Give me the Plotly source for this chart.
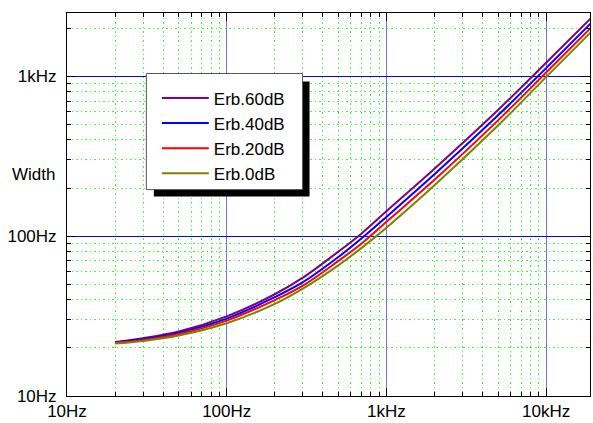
import plotly.graph_objects as go

# ---- data ----
freq = [20, 30, 50, 100, 200, 300, 500, 700, 1000, 2000, 5000, 10000, 20000]
erb60 = [21.8, 23.0, 25.3, 31.5, 43.3, 55.0, 80.0, 104.0, 143.0, 264, 615, 1215, 2420]
erb40 = [21.65, 22.7, 24.9, 30.5, 41.5, 51.5, 74.0, 97.0, 132.0, 244, 570, 1125, 2250]
erb20 = [21.5, 22.4, 24.4, 29.6, 39.8, 49.0, 70.0, 90.0, 123.0, 225, 530, 1055, 2110]
erb0 = [21.3, 22.1, 23.9, 28.5, 37.7, 47.0, 65.7, 84.5, 113.0, 208, 492, 988, 1977]
series_names = ["Erb.60dB", "Erb.40dB", "Erb.20dB", "Erb.0dB"]
series_vals = [erb60, erb40, erb20, erb0]
series_colors = ["#800080", "#0000ff", "#ff0000", "#808000"]

x_tickvals = [10, 100, 1000, 10000]
x_ticktext = ["10Hz", "100Hz", "1kHz", "10kHz"]
y_tickvals = [10, 100, 1000]
y_ticktext = ["10Hz", "100Hz", "1kHz"]
minor_vals = [m * 10 ** k for k in range(1, 5) for m in range(2, 10)]
y_title = "Width"

# ---- geometry ----
W, H = 593, 423
L, R, T, B = 67, 2, 13, 24
pw, ph = W - L - R, H - T - B


def px(xp):
    return (xp - L) / pw


def py(yp):
    return (H - B - yp) / ph


fig = go.Figure()
for i, (name, vals, col) in enumerate(zip(series_names, series_vals, series_colors)):
    fig.add_trace(go.Scatter(x=freq, y=vals, mode="lines", name=name,
                             legendgroup=f"g{i}",
                             line=dict(color=col, width=2, shape="spline")))

axis_common = dict(
    type="log", ticks="inside", ticklen=8, tickwidth=1, tickcolor="black",
    showline=True, linecolor="black", linewidth=1, mirror="ticks",
    showgrid=True, gridwidth=1, zeroline=False,
    tickfont=dict(size=17, color="black"),
    minor=dict(tickvals=minor_vals, ticks="inside", ticklen=4, tickcolor="black",
               showgrid=True, gridcolor="#33ff33", griddash="1.5px,3px", gridwidth=1),
)

fig.update_xaxes(range=[1, 4.275], tickmode="array", tickvals=x_tickvals,
                 ticktext=x_ticktext, gridcolor="#6f6fff", **axis_common)
fig.update_yaxes(range=[1, 3.396], tickmode="array", tickvals=y_tickvals,
                 ticktext=y_ticktext, ticklabelstandoff=6, gridcolor="#0000ff",
                 **axis_common)

# legend box with drop shadow
fig.add_shape(type="rect", xref="paper", yref="paper",
              x0=px(154), x1=px(310), y0=py(198), y1=py(82),
              fillcolor="black", line=dict(width=0), layer="above")
fig.add_shape(type="rect", xref="paper", yref="paper",
              x0=px(146.5), x1=px(303), y0=py(191), y1=py(74),
              fillcolor="white", line=dict(color="#555555", width=1), layer="above")

fig.add_annotation(text=y_title, xref="paper", yref="paper", x=px(33.5), y=py(176),
                   showarrow=False, font=dict(size=17, color="black"),
                   xanchor="center", yanchor="middle")

fig.update_layout(
    width=W, height=H, margin=dict(l=L, r=R, t=T, b=B),
    plot_bgcolor="white", paper_bgcolor="white",
    font=dict(family="Liberation Sans, Arial, sans-serif", size=17, color="black"),
    showlegend=True,
    legend=dict(x=px(157), y=py(81), xanchor="left", yanchor="top",
                bgcolor="rgba(0,0,0,0)", borderwidth=0, itemwidth=47,
                tracegroupgap=0, font=dict(size=17, color="black")),
)

fig.write_html("out.html")
